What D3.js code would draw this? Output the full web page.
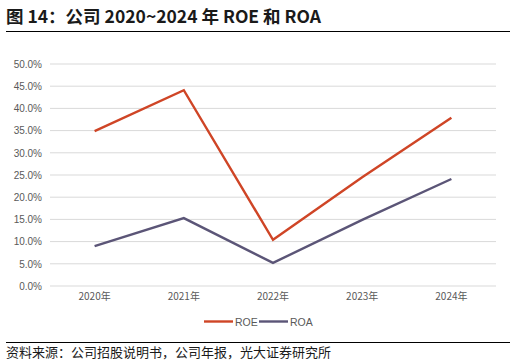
<!doctype html>
<html>
<head>
<meta charset="utf-8">
<script src="https://d3js.org/d3.v7.min.js"></script>
<style>
  body { margin:0; background:#fff; }
  svg { display:block; font-family:"Liberation Sans", Arial, sans-serif; }
  .cjk { font-family:"Noto Sans CJK SC", sans-serif; }
</style>
</head>
<body>
<svg id="chart" width="516" height="364"></svg>
<script>
// chart data
var years = ["2020年","2021年","2022年","2023年","2024年"];
var roe = [34.9, 44.1, 10.4, 24.5, 37.9];
var roa = [9.0, 15.3, 5.2, 14.9, 24.1];
var yTicks = [0,5,10,15,20,25,30,35,40,45,50];

var svg = d3.select("#chart");

// title
svg.append("text").attr("class","cjk")
  .attr("x",6).attr("y",23)
  .style("font-size","17.5px").style("font-weight","bold").style("fill","#1a1a1a")
  .text("图 14：公司 2020~2024 年 ROE 和 ROA");
svg.append("line").attr("x1",6).attr("x2",510).attr("y1",31.5).attr("y2",31.5)
  .attr("stroke","#000").attr("stroke-width",1);

var xScale = d3.scaleBand().domain(years).range([50,496]);
var yScale = d3.scaleLinear().domain([0,50]).range([286,64]);

// grid
svg.append("g").selectAll("line.grid")
  .data(yTicks)
  .enter()
  .append("line")
  .attr("class","grid")
  .attr("x1",50).attr("x2",496)
  .attr("y1",d=>yScale(d)).attr("y2",d=>yScale(d))
  .attr("stroke","#d9d9d9").attr("stroke-width",1);

var yAxis = d3.axisLeft(yScale).tickValues(yTicks).tickSize(0).tickPadding(8)
  .tickFormat(d=>d.toFixed(1)+"%");
var yG = svg.append("g").attr("transform","translate(50,0)").call(yAxis);
yG.select(".domain").remove();
yG.selectAll("text").style("font-size","10px").style("fill","#595959");

var xAxis = d3.axisBottom(xScale).tickSize(0).tickPadding(7);
var xG = svg.append("g").attr("transform","translate(0,286)").call(xAxis);
xG.select(".domain").remove();
xG.selectAll("text").attr("class","cjk").style("font-size","10px").style("fill","#595959");

var line = d3.line()
  .x((d,i)=>xScale(years[i]) + xScale.bandwidth()/2)
  .y(d=>yScale(d));

svg.append("path").attr("d",line(roa))
  .attr("fill","none").attr("stroke","#5b5577").attr("stroke-width",2.4);
svg.append("path").attr("d",line(roe))
  .attr("fill","none").attr("stroke","#cf4526").attr("stroke-width",2.4);

// legend
var legend = [{name:"ROE",color:"#cf4526",x:204},{name:"ROA",color:"#5b5577",x:259}];
var lg = svg.append("g").selectAll("g").data(legend).enter().append("g");
lg.append("line").attr("x1",d=>d.x).attr("x2",d=>d.x+29)
  .attr("y1",321.5).attr("y2",321.5)
  .attr("stroke",d=>d.color).attr("stroke-width",2.4);
lg.append("text").attr("x",d=>d.x+31).attr("y",325.5)
  .style("font-size","10.5px").style("fill","#595959")
  .text(d=>d.name);

// source
svg.append("line").attr("x1",6).attr("x2",510).attr("y1",342.5).attr("y2",342.5)
  .attr("stroke","#000").attr("stroke-width",1);
svg.append("text").attr("class","cjk")
  .attr("x",6).attr("y",357)
  .style("font-size","13px").style("fill","#1a1a1a")
  .text("资料来源：公司招股说明书，公司年报，光大证券研究所");
</script>
</body>
</html>
